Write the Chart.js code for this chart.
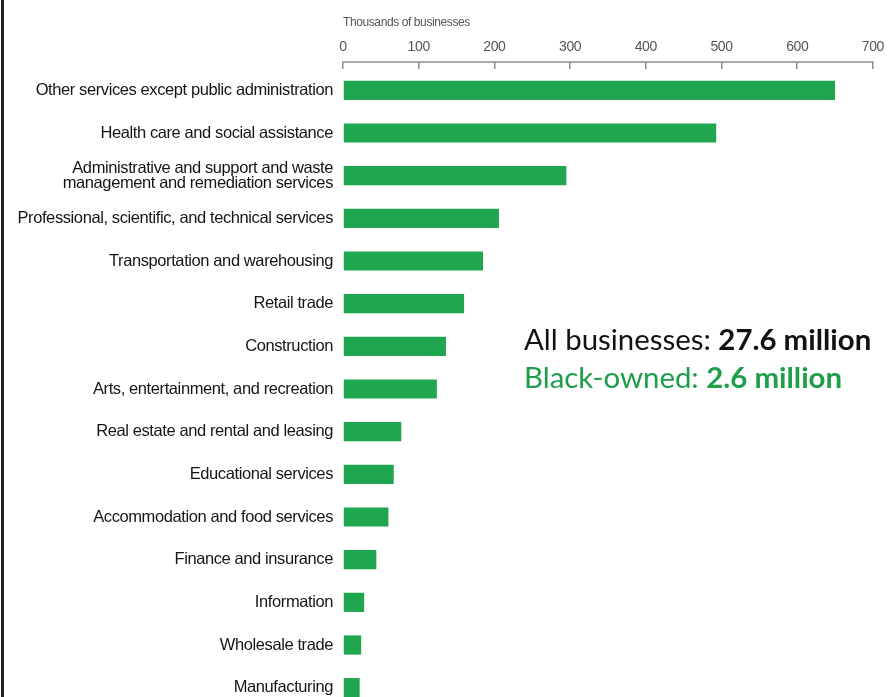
<!DOCTYPE html>
<html>
<head>
<meta charset="utf-8">
<script src="https://cdn.jsdelivr.net/npm/chart.js@4.4.1/dist/chart.umd.min.js"></script>
<style>
    html, body {
        margin: 0;
        padding: 0;
        background: #ffffff;
        overflow: hidden;
        width: 890px;
        height: 697px;
    }
    #frame {
        position: absolute;
        left: 1px;
        top: 0;
        width: 3px;
        height: 697px;
        background: #222222;
    }
    #chart-wrap {
        position: absolute;
        left: 0;
        top: 0;
        width: 890px;
        height: 709px;
    }
    #totals {
        position: absolute;
        left: 524px;
        top: 320px;
        font-family: Lato, 'Open Sans', sans-serif;
        font-size: 29.4px;
        line-height: 38px;
        white-space: nowrap;
    }
    #totals .all { color: #111111; }
    #totals .black { color: #1e9e4b; }
    #totals b { font-weight: 700; }
</style>
</head>
<body>
<div id="chart-wrap"><canvas id="industry-chart" width="890" height="709"></canvas></div>
<div id="frame"></div>
<div id="totals">
    <div class="all">All businesses: <b id="total-all"></b></div>
    <div class="black">Black-owned: <b id="total-black"></b></div>
</div>
<script>
// Black-owned businesses by industry, thousands
const industries = [
    'Other services except public administration',
    'Health care and social assistance',
    ['Administrative and support and waste', 'management and remediation services'],
    'Professional, scientific, and technical services',
    'Transportation and warehousing',
    'Retail trade',
    'Construction',
    'Arts, entertainment, and recreation',
    'Real estate and rental and leasing',
    'Educational services',
    'Accommodation and food services',
    'Finance and insurance',
    'Information',
    'Wholesale trade',
    'Manufacturing'
];
const businesses = [650, 493, 295, 206, 185, 160, 136, 124, 77, 67, 60, 44, 28, 24, 22];
const xTicks = [0, 100, 200, 300, 400, 500, 600, 700];
const totalAll = '27.6 million';
const totalBlack = '2.6 million';

document.addEventListener('DOMContentLoaded', function() {
    const colors = {
        bar: '#1fa64f',
        axis: '#8c8c8c',
        tickText: '#555555',
        label: '#151515'
    };
    const labelFont = "'Liberation Sans', Arial, sans-serif";

    document.getElementById('total-all').innerText = totalAll;
    document.getElementById('total-black').innerText = totalBlack;

    // tighter tracking for the canvas text (resizing the canvas resets the context)
    const tightText = {
        id: 'tightText',
        beforeLayout(chart) { chart.ctx.letterSpacing = '-0.4px'; },
        beforeDraw(chart) { chart.ctx.letterSpacing = '-0.4px'; }
    };

    // horizontal rule along the top of the tick marks
    const topRule = {
        id: 'topRule',
        afterDraw(chart) {
            const scale = chart.scales.x;
            const y = scale.bottom - scale.options.grid.tickLength;
            const ctx = chart.ctx;
            ctx.save();
            ctx.strokeStyle = colors.axis;
            ctx.lineWidth = 1.5;
            ctx.beginPath();
            ctx.moveTo(scale.left - 0.75, y);
            ctx.lineTo(scale.right + 0.75, y);
            ctx.stroke();
            ctx.restore();
        }
    };

    const ctx = document.getElementById('industry-chart').getContext('2d');
    new Chart(ctx, {
        type: 'bar',
        data: {
            labels: industries,
            datasets: [{
                data: businesses,
                backgroundColor: colors.bar,
                borderWidth: 0,
                barPercentage: 0.45,
                categoryPercentage: 1
            }]
        },
        options: {
            indexAxis: 'y',
            responsive: false,
            animation: false,
            layout: { padding: { left: 0, right: 17, top: 0, bottom: 0 } },
            plugins: {
                legend: { display: false },
                tooltip: { enabled: false }
            },
            scales: {
                x: {
                    position: 'top',
                    min: 0,
                    max: 700,
                    afterBuildTicks: function(scale) {
                        scale.ticks = xTicks.map(v => ({ value: v }));
                    },
                    afterFit: function(scale) {
                        scale.height = 69;
                    },
                    border: { display: false },
                    grid: {
                        drawOnChartArea: false,
                        drawTicks: true,
                        tickLength: 7,
                        color: colors.axis,
                        lineWidth: 1.5
                    },
                    ticks: {
                        color: colors.tickText,
                        padding: 6,
                        maxRotation: 0,
                        font: { family: labelFont, size: 14 }
                    },
                    title: {
                        display: true,
                        text: 'Thousands of businesses',
                        align: 'start',
                        color: colors.tickText,
                        padding: { top: 15, bottom: 0 },
                        font: { family: labelFont, size: 12 }
                    }
                },
                y: {
                    afterFit: function(scale) {
                        scale.width = 343;
                        scale.paddingTop = 0;
                        scale.paddingBottom = 0;
                    },
                    border: { display: false },
                    grid: { display: false, drawTicks: false },
                    ticks: {
                        color: colors.label,
                        padding: 10,
                        autoSkip: false,
                        font: { family: labelFont, size: 16.5, lineHeight: 0.9 }
                    }
                }
            }
        },
        plugins: [tightText, topRule]
    });
});
</script>
</body>
</html>
